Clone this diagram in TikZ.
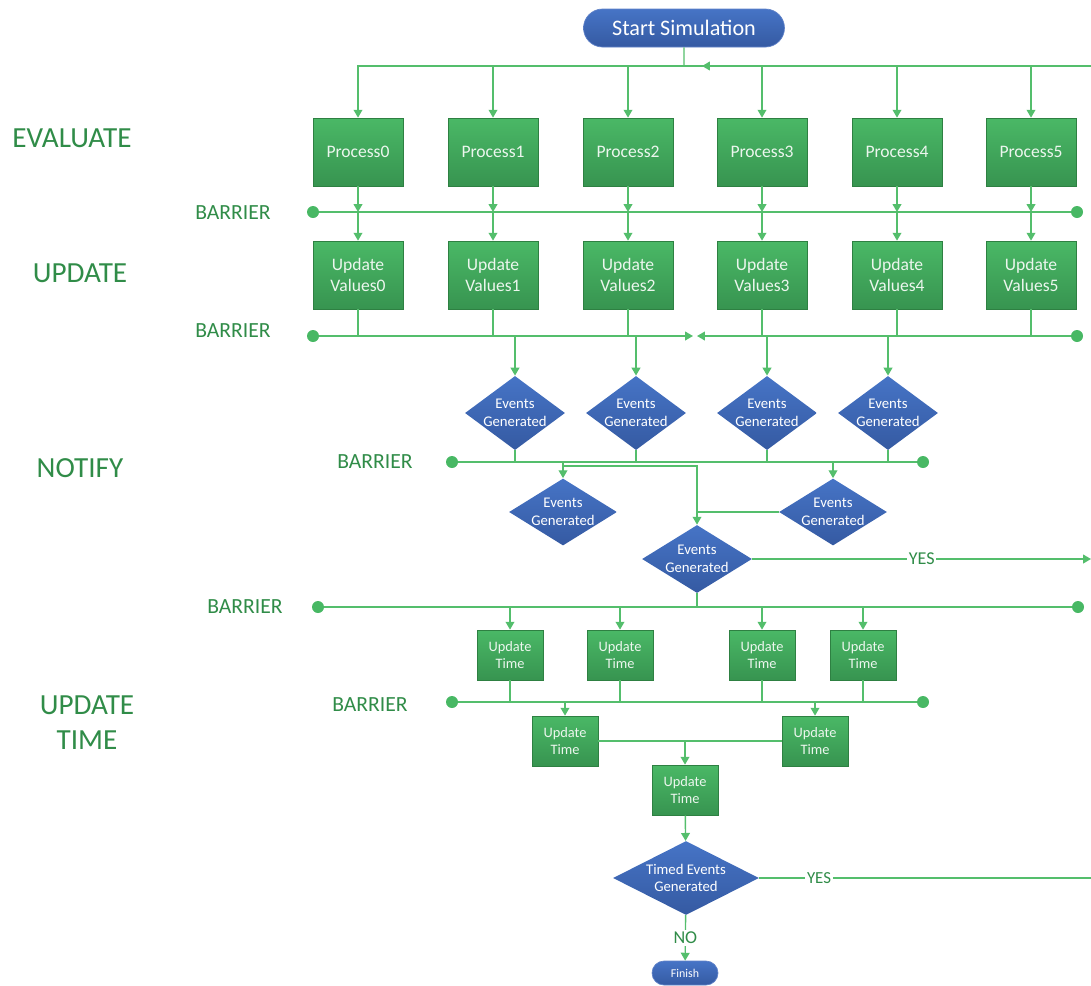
\documentclass[tikz,border=0pt]{standalone}
\usepackage{fontspec}
\setmainfont{Carlito}
\usetikzlibrary{shapes.geometric,shapes.misc,arrows.meta}

\definecolor{lngreen}{RGB}{84,190,108}
\definecolor{dotgreen}{RGB}{72,184,100}
\definecolor{lblgreen}{RGB}{48,140,72}
\definecolor{boxtop}{RGB}{74,184,102}
\definecolor{boxbot}{RGB}{55,148,80}
\definecolor{boxedge}{RGB}{46,128,66}
\definecolor{boxtext}{RGB}{236,246,238}
\definecolor{bluetop}{RGB}{70,116,198}
\definecolor{bluebot}{RGB}{53,90,162}
\definecolor{blueedge}{RGB}{96,130,200}

\tikzset{
  proc/.style={rectangle, draw=boxedge, top color=boxtop, bottom color=boxbot,
    text=boxtext, align=center, inner sep=0pt, minimum width=1.8cm,
    minimum height=1.36cm, font=\fontsize{10}{11.5}\selectfont},
  utime/.style={proc, minimum width=1.32cm, minimum height=1cm,
    font=\fontsize{8.2}{10}\selectfont},
  evt/.style={diamond, aspect=1.35, top color=bluetop, bottom color=bluebot, text=white,
    align=center, inner sep=0pt, minimum width=2cm, minimum height=1.48cm,
    font=\fontsize{8.4}{10}\selectfont},
  pill/.style={rounded rectangle, draw=blueedge, top color=bluetop,
    bottom color=bluebot, text=white, inner sep=0pt},
  dot/.style={circle, fill=dotgreen, inner sep=0pt, minimum size=0.24cm},
  lbl/.style={text=lblgreen, font=\fontsize{12.3}{14}\selectfont},
  phase/.style={text=lblgreen, align=center, font=\fontsize{16.6}{20}\selectfont},
  ans/.style={fill=white, text=lblgreen, inner sep=1pt, font=\fontsize{10.3}{12}\selectfont},
  wire/.style={draw=lngreen, line width=0.8pt},
  arr/.style={wire, -{Triangle[width=5pt,length=4.5pt]}},
}

\begin{document}
\begin{tikzpicture}[x=0.02cm, y=-0.02cm]
    \useasboundingbox (0,0) rectangle (1091,985);
    % phase names
    \node[phase] (ph1) at (72,138) {EVALUATE};
    \node[phase] (ph2) at (80,273) {UPDATE};
    \node[phase] (ph3) at (80,468) {NOTIFY};
    \node[phase] (ph4) at (87,723) {UPDATE\\TIME};
    % start
    \node[pill, minimum width=4.02cm, minimum height=0.76cm,
      font=\fontsize{12.6}{14}\selectfont] (start) at (684,28) {Start Simulation};
    \coordinate (top) at (684,66);
    \coordinate (loopin) at (1091,66);
    \coordinate (loopend) at (702,66);
    \draw[wire] (start) -- (top);
    \draw[arr] (loopin) -- (loopend);
    % barriers
    \node[dot] (b1l) at (313,212) {};  \node[dot] (b1r) at (1077,212) {};
    \node[dot] (b2l) at (313,336) {};  \node[dot] (b2r) at (1077,336) {};
    \node[dot] (b3l) at (452,462) {};  \node[dot] (b3r) at (923,462) {};
    \node[dot] (b4l) at (318,607) {};  \node[dot] (b4r) at (1078,607) {};
    \node[dot] (b5l) at (452,702) {};  \node[dot] (b5r) at (923,702) {};
    \node[lbl] (t1) at (233,213) {BARRIER};
    \node[lbl] (t2) at (233,331) {BARRIER};
    \node[lbl] (t3) at (375,462) {BARRIER};
    \node[lbl] (t4) at (245,607) {BARRIER};
    \node[lbl] (t5) at (370,705) {BARRIER};
    \draw[wire] (b1l) -- (b1r);
    \draw[wire] (b3l) -- (b3r);
    \draw[wire] (b4l) -- (b4r);
    \draw[wire] (b5l) -- (b5r);
    % evaluate and update
    \foreach \i/\x in {0/358,1/493,2/628,3/762,4/897,5/1031} {
      \node[proc] (p\i) at (\x,152) {Process\i};
      \node[proc] (u\i) at (\x,275) {Update\\Values\i};
      \draw[arr] (top) -| (p\i);
      \draw[arr] (p\i) -- (p\i |- b1l);
      \draw[arr] (p\i |- b1l) -- (u\i);
      \draw[wire] (u\i) -- (u\i |- b2l);
    }
    \coordinate (b2m1) at (693,336);
    \coordinate (b2m2) at (697,336);
    \draw[arr] (b2l) -- (b2m1);
    \draw[arr] (b2r) -- (b2m2);
    % notify
    \foreach \i/\x in {1/515,2/636,3/767,4/888} {
      \node[evt] (e\i) at (\x,413) {Events\\Generated};
      \draw[arr] (e\i |- b2l) -- (e\i);
      \draw[wire] (e\i) -- (e\i |- b3l);
    }
    \node[evt, aspect=1.6, minimum width=2.16cm, minimum height=1.34cm] (f1) at (563,512) {Events\\Generated};
    \node[evt, aspect=1.6, minimum width=2.16cm, minimum height=1.34cm] (f2) at (833,512) {Events\\Generated};
    \node[evt, aspect=1.6, minimum width=2.2cm, minimum height=1.36cm] (g) at (697,559) {Events\\Generated};
    \coordinate (j1) at (563,466);
    \coordinate (yes1) at (1091,559);
    \draw[arr] (f1 |- b3l) -- (f1);
    \draw[arr] (f2 |- b3l) -- (f2);
    \draw[arr] (j1) -| (g);
    \draw[wire] (f2) -- (g |- f2);
    \draw[arr] (g) -- node[ans] {YES} (yes1);
    \draw[wire] (g) -- (g |- b4l);
    % update time
    \foreach \i/\x in {1/510,2/620,3/762,4/863} {
      \node[utime] (ut\i) at (\x,655) {Update\\Time};
      \draw[arr] (ut\i |- b4l) -- (ut\i);
      \draw[wire] (ut\i) -- (ut\i |- b5l);
    }
    \node[utime] (s1) at (565,741) {Update\\Time};
    \node[utime] (s2) at (815,741) {Update\\Time};
    \node[utime] (s3) at (685,790) {Update\\Time};
    \coordinate (sm) at (685,741);
    \draw[arr] (s1 |- b5l) -- (s1);
    \draw[arr] (s2 |- b5l) -- (s2);
    \draw[wire] (s1) -- (s2);
    \draw[arr] (sm) -- (s3);
    % timed events
    \node[evt, aspect=2, minimum width=2.92cm, minimum height=1.48cm] (tev) at (686,878) {Timed Events\\Generated};
    \node[pill, minimum width=1.32cm, minimum height=0.48cm,
      font=\fontsize{6.8}{8}\selectfont] (fin) at (685,973) {Finish};
    \coordinate (yes2) at (1091,878);
    \draw[arr] (s3) -- (tev);
    \draw[wire] (tev) -- node[ans, pos=0.18, font=\fontsize{9.6}{11}\selectfont] {YES} (yes2);
    \draw[arr] (tev) -- node[ans] {NO} (fin);
\end{tikzpicture}
\end{document}
